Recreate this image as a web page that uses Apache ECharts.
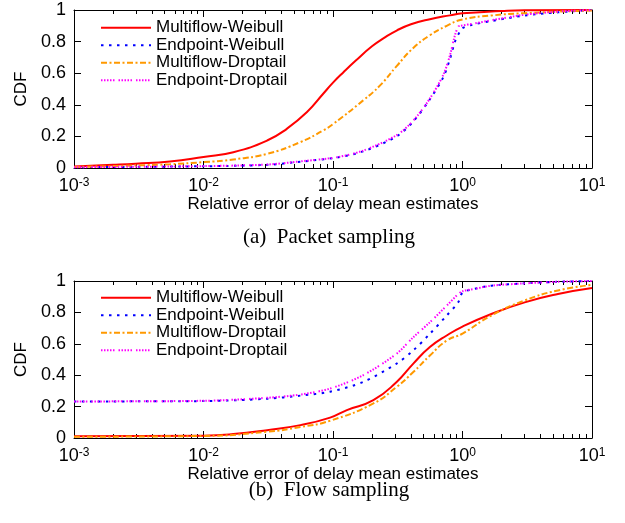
<!DOCTYPE html>
<html>
<head>
<meta charset="utf-8">
<script src="https://cdn.jsdelivr.net/npm/echarts@6/dist/echarts.min.js"></script>
<style>html,body{margin:0;padding:0;background:#fff;}#c{width:625px;height:523px;}</style>
</head>
<body>
<div id="c"></div>
<script>
// ---- Data ----
const seriesNames = ['Multiflow-Weibull', 'Endpoint-Weibull', 'Multiflow-Droptail', 'Endpoint-Droptail'];
const xTickValues = [0.001, 0.01, 0.1, 1, 10];
const yTickValues = [0, 0.2, 0.4, 0.6, 0.8, 1];
const captions = ['(a)  Packet sampling', '(b)  Flow sampling'];
const xAxisTitle = 'Relative error of delay mean estimates';
const yAxisTitle = 'CDF';

// (a) Packet sampling
const aMwX = [0.001, 0.002, 0.003, 0.0055, 0.01, 0.017, 0.031, 0.044, 0.063, 0.084, 0.1, 0.12, 0.15, 0.2, 0.25, 0.31, 0.4, 0.56, 0.8, 1, 2, 3, 10];
const aMwY = [0.01, 0.02, 0.027, 0.041, 0.07, 0.10, 0.174, 0.248, 0.354, 0.47, 0.54, 0.605, 0.68, 0.77, 0.825, 0.87, 0.91, 0.942, 0.966, 0.979, 0.993, 0.998, 1.0];
const aEwX = [0.001, 0.01, 0.031, 0.056, 0.107, 0.171, 0.31, 0.417, 0.56, 0.711, 0.80, 0.875, 0.95, 1.0, 1.17, 1.67, 3.02, 5.46, 10];
const aEwY = [0.005, 0.011, 0.02, 0.04, 0.066, 0.105, 0.20, 0.295, 0.435, 0.575, 0.69, 0.80, 0.86, 0.885, 0.905, 0.93, 0.965, 0.985, 1.0];
const aMdX = [0.001, 0.003, 0.0055, 0.01, 0.017, 0.031, 0.056, 0.084, 0.1, 0.171, 0.231, 0.31, 0.417, 0.56, 0.755, 1.0, 1.67, 3.02, 10];
const aMdY = [0.006, 0.016, 0.024, 0.037, 0.054, 0.09, 0.164, 0.238, 0.278, 0.428, 0.523, 0.645, 0.76, 0.84, 0.90, 0.94, 0.965, 0.98, 0.997];
const aEdX = [0.001, 0.01, 0.031, 0.056, 0.107, 0.171, 0.31, 0.417, 0.56, 0.711, 0.80, 0.875, 0.927, 0.96, 1.24, 1.67, 3.02, 5.46, 10];
const aEdY = [0.005, 0.012, 0.022, 0.042, 0.068, 0.11, 0.208, 0.30, 0.44, 0.59, 0.713, 0.84, 0.895, 0.90, 0.915, 0.935, 0.97, 0.99, 1.0];

// (b) Flow sampling
const bMwX = [0.001, 0.01, 0.017, 0.031, 0.056, 0.095, 0.128, 0.205, 0.31, 0.417, 0.56, 0.755, 1.0, 1.67, 3.02, 5.46, 10];
const bMwY = [0.011, 0.015, 0.025, 0.05, 0.082, 0.13, 0.178, 0.241, 0.357, 0.474, 0.579, 0.653, 0.71, 0.79, 0.864, 0.917, 0.955];
const bEwX = [0.001, 0.01, 0.031, 0.056, 0.095, 0.171, 0.31, 0.417, 0.56, 0.755, 0.927, 1.0, 1.24, 1.67, 3.02, 5.46, 10];
const bEwY = [0.233, 0.235, 0.25, 0.27, 0.295, 0.357, 0.474, 0.558, 0.664, 0.78, 0.865, 0.925, 0.95, 0.97, 0.985, 0.995, 1.0];
const bMdX = [0.001, 0.01, 0.031, 0.056, 0.095, 0.205, 0.31, 0.417, 0.56, 0.755, 1.0, 1.67, 3.02, 5.46, 10];
const bMdY = [0.008, 0.013, 0.04, 0.07, 0.11, 0.22, 0.325, 0.42, 0.525, 0.62, 0.665, 0.78, 0.876, 0.94, 0.975];
const bEdX = [0.001, 0.01, 0.031, 0.056, 0.095, 0.171, 0.31, 0.417, 0.56, 0.755, 0.927, 1.0, 1.24, 1.67, 3.02, 5.46, 10];
const bEdY = [0.233, 0.237, 0.256, 0.277, 0.315, 0.40, 0.537, 0.642, 0.737, 0.843, 0.917, 0.935, 0.95, 0.97, 0.985, 0.995, 1.0];

// ---- Styling ----
const FONT = 'Liberation Sans';
const colors = ['#ff0000', '#0000ff', '#ff9900', '#ff00ff'];
const dashes = ['solid', [2.5, 5.5], [6, 2.5, 2, 2.5], [1.5, 1.5, 1.5, 1.5, 1.5, 1.5, 1.5, 1.5, 1.5, 4]];
const smoothness = [0.5, 0.3, 0.5, 0.3];

const minorVals = [];
for (let e = -3; e < 1; e++) for (let m = 2; m <= 9; m++) minorVals.push(+(m * Math.pow(10, e)).toPrecision(3));

const grids = [
  { left: 74, top: 10, width: 518, height: 158 },
  { left: 74, top: 281, width: 518, height: 157 }
];

const xAxes = [], yAxes = [];
grids.forEach((g, gi) => {
  const base = { type: 'log', logBase: 10, min: 0.001, max: 10, gridIndex: gi, splitLine: { show: false } };
  xAxes.push(Object.assign({}, base, {
    position: 'bottom',
    name: xAxisTitle, nameLocation: 'middle', nameGap: 25,
    nameTextStyle: { fontFamily: FONT, fontSize: 17, color: '#000' },
    axisLine: { show: true, lineStyle: { color: '#000', width: 1 } },
    axisTick: { show: true, inside: true, length: 7, lineStyle: { color: '#000' } },
    axisLabel: {
      show: true, margin: 9, color: '#000', fontFamily: FONT,
      formatter: v => '{b|10}{s|' + Math.round(Math.log10(v)) + '}',
      rich: { b: { fontSize: 18, fontFamily: FONT, color: '#000' }, s: { fontSize: 12, fontFamily: FONT, color: '#000', verticalAlign: 'top' } }
    }
  }));
  xAxes.push(Object.assign({}, base, {
    position: 'bottom',
    axisLine: { show: false },
    axisTick: { show: true, inside: true, length: 4, customValues: minorVals, lineStyle: { color: '#000' } },
    axisLabel: { show: false }
  }));
  xAxes.push(Object.assign({}, base, {
    position: 'top',
    axisLine: { show: true, lineStyle: { color: '#000', width: 1 } },
    axisTick: { show: true, inside: true, length: 7, lineStyle: { color: '#000' } },
    axisLabel: { show: false }
  }));
  xAxes.push(Object.assign({}, base, {
    position: 'top',
    axisLine: { show: false },
    axisTick: { show: true, inside: true, length: 4, customValues: minorVals, lineStyle: { color: '#000' } },
    axisLabel: { show: false }
  }));
  const ybase = { type: 'value', min: 0, max: 1, interval: 0.2, gridIndex: gi, splitLine: { show: false } };
  yAxes.push(Object.assign({}, ybase, {
    position: 'left',
    name: yAxisTitle, nameLocation: 'middle', nameGap: 38, nameRotate: 90,
    nameTextStyle: { fontFamily: FONT, fontSize: 17, color: '#000' },
    axisLine: { show: true, lineStyle: { color: '#000', width: 1 } },
    axisTick: { show: true, inside: true, length: 7, lineStyle: { color: '#000' } },
    axisLabel: { show: true, margin: 8, color: '#000', fontFamily: FONT, fontSize: 18, customValues: yTickValues }
  }));
  yAxes.push(Object.assign({}, ybase, {
    position: 'right',
    axisLine: { show: true, lineStyle: { color: '#000', width: 1 } },
    axisTick: { show: true, inside: true, length: 7, lineStyle: { color: '#000' } },
    axisLabel: { show: false }
  }));
});

function pairs(xs, ys) { return xs.map((x, i) => [x, ys[i]]); }
const datasets = [
  [pairs(aMwX, aMwY), pairs(aEwX, aEwY), pairs(aMdX, aMdY), pairs(aEdX, aEdY)],
  [pairs(bMwX, bMwY), pairs(bEwX, bEwY), pairs(bMdX, bMdY), pairs(bEdX, bEdY)]
];

const series = [];
datasets.forEach((ds, gi) => {
  ds.forEach((d, si) => {
    series.push({
      type: 'line', name: seriesNames[si], data: d,
      xAxisIndex: gi * 4, yAxisIndex: gi * 2,
      symbol: 'none', smooth: smoothness[si], clip: true,
      color: colors[si],
      lineStyle: { color: colors[si], width: 2, type: dashes[si], cap: 'butt' },
      z: 2 + si
    });
  });
});

const legendBase = {
  orient: 'vertical', left: 95, itemWidth: 50, itemHeight: 10, itemGap: 0,
  selectedMode: false, data: seriesNames,
  itemStyle: { opacity: 0 },
  textStyle: { fontFamily: FONT, fontSize: 17, color: '#000', lineHeight: 17.5 }
};

const option = {
  animation: false,
  backgroundColor: '#fff',
  grid: grids,
  xAxis: xAxes,
  yAxis: yAxes,
  legend: [Object.assign({}, legendBase, { top: 14 }), Object.assign({}, legendBase, { top: 284 })],
  graphic: [
    { type: 'text', x: 329, y: 237, style: { text: captions[0], font: '21px "Liberation Serif"', fill: '#000', textAlign: 'center', textVerticalAlign: 'middle' } },
    { type: 'text', x: 329, y: 490, style: { text: captions[1], font: '21px "Liberation Serif"', fill: '#000', textAlign: 'center', textVerticalAlign: 'middle' } }
  ],
  series: series
};

const chart = echarts.init(document.getElementById('c'), null, { renderer: 'canvas' });
chart.setOption(option);
</script>
</body>
</html>
